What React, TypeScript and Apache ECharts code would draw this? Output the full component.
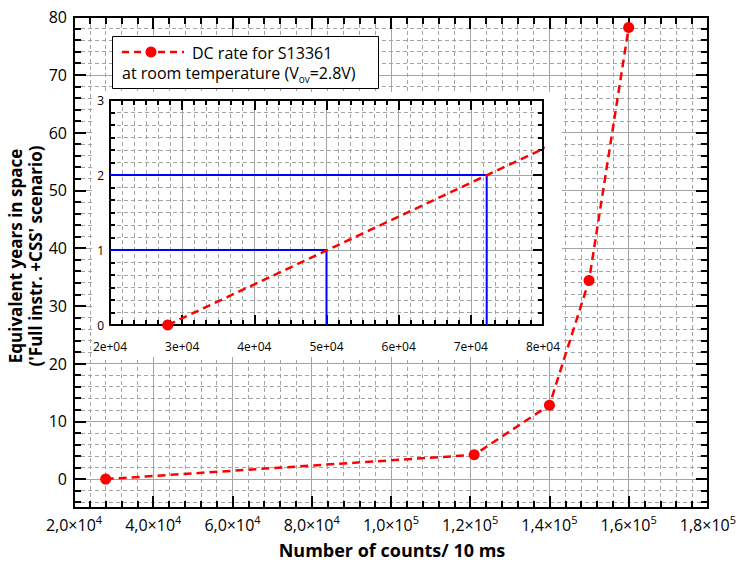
import React, { useEffect, useRef } from 'react';
import * as echarts from 'echarts';

// ---- data ----
const countsX = [28000, 121000, 140000, 150000, 160000];
const years = [0, 4.2, 12.8, 34.4, 78.2];

// main x tick labels (mantissa × 10^exponent)
const xTickValues = [20000, 40000, 60000, 80000, 100000, 120000, 140000, 160000, 180000];
const xTickMantissa = ['2,0', '4,0', '6,0', '8,0', '1,0', '1,2', '1,4', '1,6', '1,8'];
const xTickExponent = ['4', '4', '4', '4', '5', '5', '5', '5', '5'];

// main y ticks
const yMajorTicks = [0, 10, 20, 30, 40, 50, 60, 70, 80];
const yMinorTicks = [-4, -2, 2, 4, 6, 8, 12, 14, 16, 18, 22, 24, 26, 28, 32, 34, 36, 38, 42, 44, 46, 48, 52, 54, 56, 58, 62, 64, 66, 68, 72, 74, 76, 78];

// inset tick labels
const insetXValues = [20000, 30000, 40000, 50000, 60000, 70000, 80000];
const insetXLabels = ['2e+04', '3e+04', '4e+04', '5e+04', '6e+04', '7e+04', '8e+04'];
const insetYLabels = ['0', '1', '2', '3'];

// inset guide lines (1 and 2 years)
const guideOneYear = [[20000, 1], [50000, 1], [50000, 0]];
const guideTwoYears = [[20000, 2], [72200, 2], [72200, 0]];

const FONT = "'Open Sans', 'DejaVu Sans', sans-serif";
const GRAY = '#a4a4a4';
const RED = '#ff0000';
const BLUE = '#0000ff';

const solidGrid = { show: true, lineStyle: { color: GRAY, width: 1, type: 'solid' } };
const dashGrid = { show: true, lineStyle: { color: GRAY, width: 1, type: [4, 3] } };
const blackLine = { color: '#000', width: 2 };
const redDash = { color: RED, width: 2.5, type: [8, 5] };

export default function App() {
  const ref = useRef<HTMLDivElement>(null);
  useEffect(() => {
    if (!ref.current) return;
    const chart = echarts.init(ref.current, undefined, { renderer: 'svg' });
    const mainPts = countsX.map((x, i) => [x, years[i]]);

    const mainX = (top: boolean) => ({
      gridIndex: 0,
      type: 'value',
      position: top ? 'top' : 'bottom',
      min: 20000,
      max: 180000,
      interval: 20000,
      z: 0,
      axisLine: { show: true, onZero: false, lineStyle: blackLine },
      axisTick: { show: true, inside: true, length: 12, lineStyle: blackLine },
      minorTick: { show: true, splitNumber: 5, length: 7, lineStyle: blackLine },
      splitLine: top ? { show: false } : solidGrid,
      minorSplitLine: top ? { show: false } : dashGrid,
      axisLabel: top
        ? { show: false }
        : {
            show: true,
            margin: 6,
            formatter: (v: number) => {
              const i = xTickValues.indexOf(v);
              if (i < 0) return '';
              return `{m|${xTickMantissa[i]}×10}{s|${xTickExponent[i]}}`;
            },
            rich: {
              m: { fontFamily: FONT, fontSize: 16, color: '#000', lineHeight: 22 },
              s: { fontFamily: FONT, fontSize: 11, color: '#000', lineHeight: 22, verticalAlign: 'top' },
            },
          },
    });

    const mainY = (pos: 'left' | 'right', major: boolean) => ({
      gridIndex: 0,
      type: 'value',
      position: pos,
      min: -5,
      max: 80,
      z: 0,
      axisLine: { show: true, onZero: false, lineStyle: blackLine },
      axisTick: {
        show: true,
        inside: true,
        length: major ? 12 : 7,
        customValues: major ? yMajorTicks : yMinorTicks,
        lineStyle: blackLine,
      },
      minorTick: { show: false },
      splitLine: pos === 'left' ? (major ? solidGrid : dashGrid) : { show: false },
      axisLabel:
        pos === 'left' && major
          ? { show: true, customValues: yMajorTicks, margin: 7, fontFamily: FONT, fontSize: 16, color: '#000' }
          : { show: false },
    });

    const insetX = (top: boolean) => ({
      gridIndex: 1,
      type: 'value',
      position: top ? 'top' : 'bottom',
      min: 20000,
      max: 80000,
      interval: 10000,
      z: 3,
      axisLine: { show: true, onZero: false, lineStyle: blackLine },
      axisTick: { show: true, inside: true, length: 10, lineStyle: blackLine },
      minorTick: { show: true, splitNumber: 6, length: 5, lineStyle: blackLine },
      splitLine: top ? { show: false } : solidGrid,
      minorSplitLine: top ? { show: false } : dashGrid,
      axisLabel: top
        ? { show: false }
        : {
            show: true,
            margin: 15,
            fontFamily: FONT,
            fontSize: 12,
            color: '#000',
            formatter: (v: number) => {
              const i = insetXValues.indexOf(v);
              return i < 0 ? '' : insetXLabels[i];
            },
          },
    });

    const insetY = (pos: 'left' | 'right') => ({
      gridIndex: 1,
      type: 'value',
      position: pos,
      min: 0,
      max: 3,
      interval: 1,
      z: 3,
      axisLine: { show: true, onZero: false, lineStyle: blackLine },
      axisTick: { show: true, inside: true, length: 10, lineStyle: blackLine },
      minorTick: { show: true, splitNumber: 6, length: 5, lineStyle: blackLine },
      splitLine: pos === 'left' ? solidGrid : { show: false },
      minorSplitLine: pos === 'left' ? dashGrid : { show: false },
      axisLabel:
        pos === 'left'
          ? {
              show: true,
              margin: 6,
              fontFamily: FONT,
              fontSize: 12,
              color: '#000',
              formatter: (v: number) => insetYLabels[Math.round(v)] ?? '',
            }
          : { show: false },
    });

    chart.setOption({
      animation: false,
      backgroundColor: '#fff',
      grid: [
        { left: 74, top: 17, width: 635, height: 491, containLabel: false },
        { left: 110, top: 100, width: 433, height: 225, containLabel: false },
      ],
      xAxis: [mainX(false), mainX(true), insetX(false), insetX(true)],
      yAxis: [
        mainY('left', true),
        mainY('left', false),
        mainY('right', true),
        mainY('right', false),
        insetY('left'),
        insetY('right'),
      ],
      series: [
        {
          type: 'line',
          xAxisIndex: 0,
          yAxisIndex: 0,
          data: mainPts,
          symbol: 'circle',
          symbolSize: 11,
          z: 2,
          lineStyle: redDash,
          itemStyle: { color: RED },
        },
        {
          type: 'line',
          xAxisIndex: 2,
          yAxisIndex: 4,
          data: guideOneYear,
          symbol: 'none',
          z: 4,
          lineStyle: { color: BLUE, width: 2 },
        },
        {
          type: 'line',
          xAxisIndex: 2,
          yAxisIndex: 4,
          data: guideTwoYears,
          symbol: 'none',
          z: 4,
          lineStyle: { color: BLUE, width: 2 },
        },
        {
          type: 'line',
          xAxisIndex: 2,
          yAxisIndex: 4,
          data: mainPts,
          symbol: 'circle',
          symbolSize: 11,
          clip: true,
          z: 5,
          lineStyle: redDash,
          itemStyle: { color: RED },
        },
      ],
      graphic: [
        {
          type: 'rect',
          z: 1,
          shape: { x: 92, y: 92, width: 470, height: 265 },
          style: { fill: '#fff' },
        },
        {
          type: 'group',
          z: 10,
          children: [
            {
              type: 'rect',
              z: 10,
              shape: { x: 112.5, y: 36.5, width: 266, height: 52 },
              style: { fill: '#fff', stroke: '#000', lineWidth: 1 },
            },
            {
              type: 'line',
              z: 11,
              shape: { x1: 122, y1: 52, x2: 184, y2: 52 },
              style: { stroke: RED, lineWidth: 2.5, lineDash: [7, 5] },
            },
            {
              type: 'circle',
              z: 11,
              shape: { cx: 151, cy: 52, r: 5.5 },
              style: { fill: RED },
            },
            {
              type: 'text',
              z: 11,
              x: 192,
              y: 53,
              style: {
                text: 'DC rate for S13361',
                fontFamily: FONT,
                fontSize: 16,
                fill: '#000',
                verticalAlign: 'middle',
                align: 'left',
              },
            },
            {
              type: 'text',
              z: 11,
              x: 122,
              y: 73,
              style: {
                text: '{n|at room temperature (V}{b|ov}{n|=2.8V)}',
                verticalAlign: 'middle',
                align: 'left',
                rich: {
                  n: { fontFamily: FONT, fontSize: 16, fill: '#000', lineHeight: 22 },
                  b: { fontFamily: FONT, fontSize: 10, fill: '#000', lineHeight: 22, verticalAlign: 'bottom' },
                },
              },
            },
          ],
        },
        {
          type: 'text',
          z: 10,
          x: 25.5,
          y: 256,
          rotation: Math.PI / 2,
          style: {
            text: "Equivalent years in space\n('Full instr. +CSS' scenario)",
            fontFamily: FONT,
            fontSize: 17,
            fontWeight: 'bold',
            fill: '#000',
            align: 'center',
            verticalAlign: 'middle',
            lineHeight: 20,
          },
        },
        {
          type: 'text',
          z: 10,
          x: 392,
          y: 550,
          style: {
            text: 'Number of counts/ 10 ms',
            fontFamily: FONT,
            fontSize: 18,
            fontWeight: 'bold',
            fill: '#000',
            align: 'center',
            verticalAlign: 'middle',
          },
        },
      ],
    });
    return () => chart.dispose();
  }, []);
  return <div ref={ref} style={{ position: 'fixed', left: 0, top: 0, width: 739, height: 588 }} />;
}
